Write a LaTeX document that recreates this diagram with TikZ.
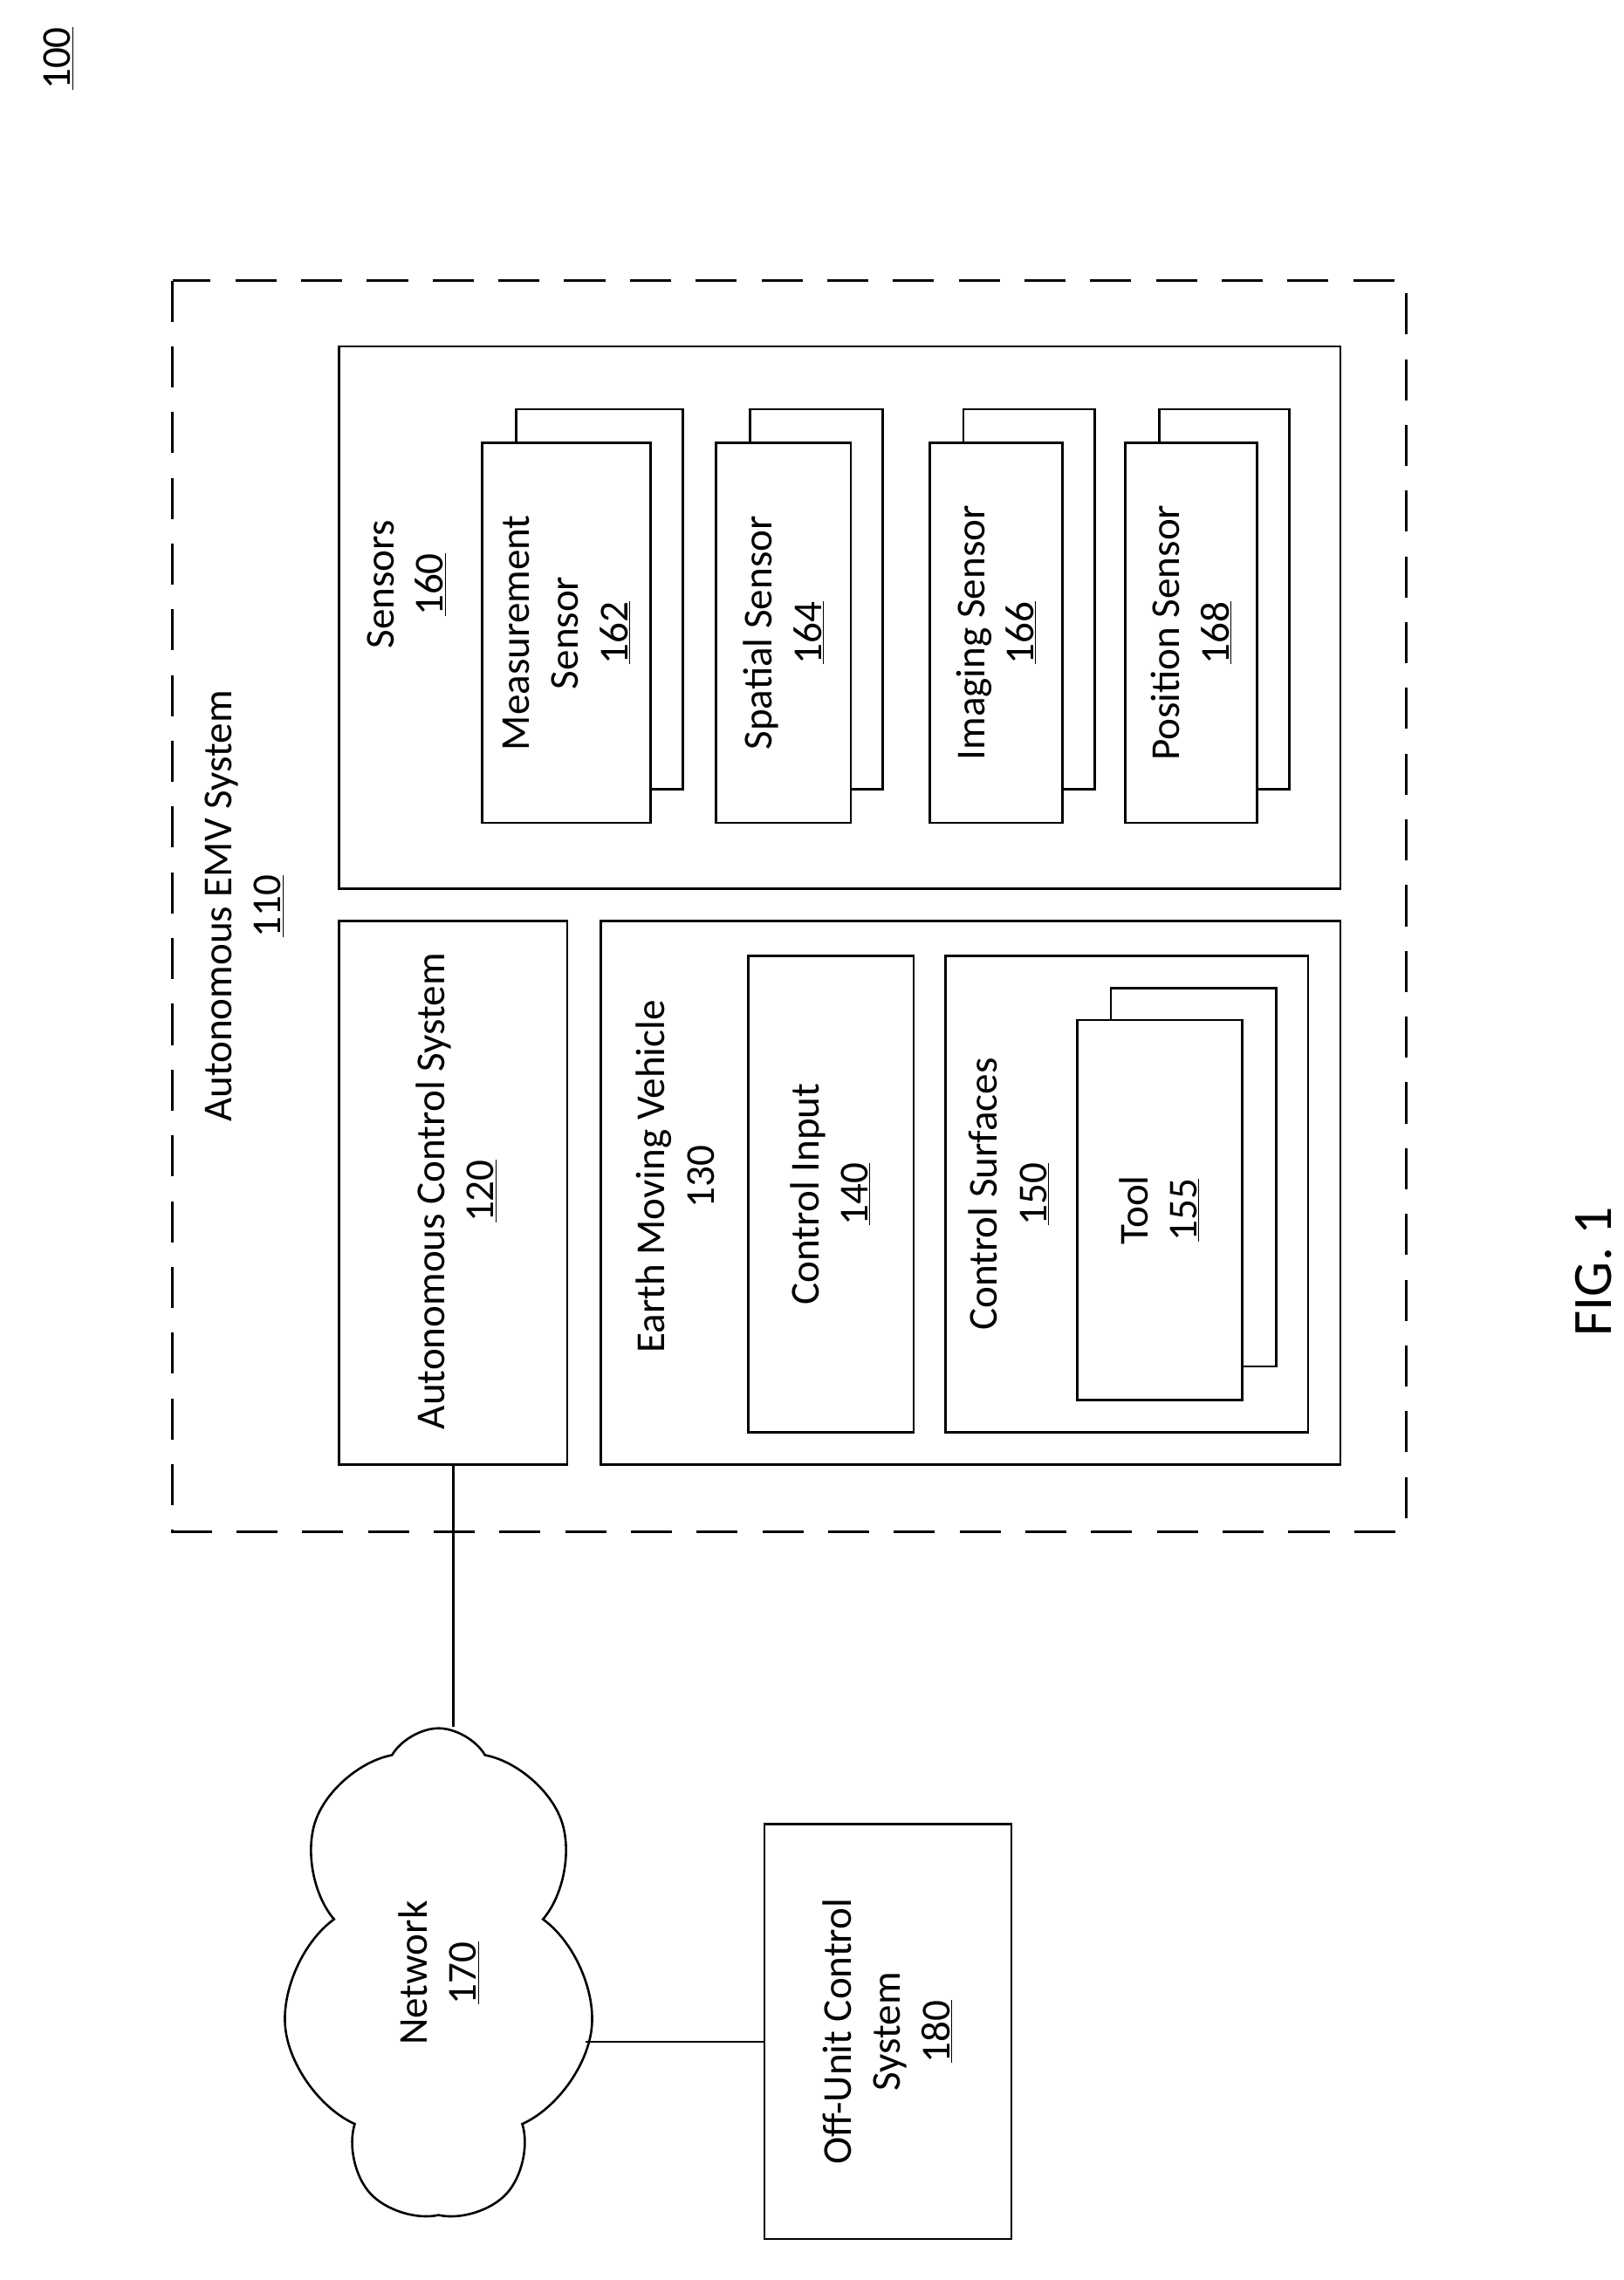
\documentclass[tikz,border=0pt]{standalone}
\usepackage{fontspec}
\setmainfont{Carlito}
\usetikzlibrary{shapes.symbols}
\begin{document}
\begin{tikzpicture}[x=0.05cm,y=-0.05cm,
  box/.style={draw,line width=2.2pt},
  txt/.style={rotate=90,align=center,font=\fontsize{40}{48}\selectfont,inner sep=0pt},
  ln/.style={line width=2.2pt}]
\useasboundingbox (0,0) rectangle (1111,1560);
\node[txt] (n100) at (40,40) {\underline{100}};
\draw[box,dash pattern=on 40pt off 24pt] (118,192) rectangle (962,1048);
\node[txt] (emv) at (167,620) {Autonomous EMV System\\\underline{110}};
% sensors
\draw[box] (232,237) rectangle (917,608);
\node[txt] (sens) at (278,400) {Sensors\\\underline{160}};
\foreach \a/\b/\t [count=\i] in {330/445/{Measurement\\Sensor\\\underline{162}},490/582/{Spatial Sensor\\\underline{164}},636/727/{Imaging Sensor\\\underline{166}},770/860/{Position Sensor\\\underline{168}}}{
  \draw[box,fill=white] (\a+23,280) rectangle (\b+22,540);
  \draw[box,fill=white] (\a,303) rectangle (\b,563);
  \node[txt] (s\i) at ({(\a+\b)/2},433) {\t};
}
% ACS
\draw[box] (232,630) rectangle (388,1002);
\node[txt] (acs) at (312,815) {Autonomous Control System\\\underline{120}};
\coordinate (acsb) at (310,1002);
% EMV
\draw[box] (411,630) rectangle (917,1002);
\node[txt] (ev) at (462,805) {Earth Moving Vehicle\\130};
\draw[box] (512,654) rectangle (625,980);
\node[txt] (ci) at (568,817) {Control Input\\\underline{140}};
\draw[box] (647,654) rectangle (895,980);
\node[txt] (cs) at (690,817) {Control Surfaces\\\underline{150}};
\draw[box,fill=white] (760,676) rectangle (873,935);
\draw[box,fill=white] (737,698) rectangle (850,958);
\node[txt] (tool) at (793,828) {Tool\\\underline{155}};
% network
\node[cloud,draw,line width=2.2pt,cloud puffs=7,cloud puff arc=120,minimum width=215*0.05cm,minimum height=335*0.05cm,inner sep=0pt,shape border rotate=90] (net) at (300,1350) {};
\node[txt] at (300,1350) {Network\\\underline{170}};
\draw[ln] (acsb) -- (acsb |- net.north);
\node[box,minimum width=169*0.05cm,minimum height=284*0.05cm,inner sep=0pt] (off) at (607.5,1390) {};
\node[txt] at (607,1390) {Off-Unit Control\\System\\\underline{180}};
\draw[ln] (net.east |- 0,1397) -- (off.west |- 0,1397);
\node[txt,font=\fontsize{54}{60}\selectfont] (fig) at (1090,870) {FIG. 1};
\end{tikzpicture}
\end{document}
